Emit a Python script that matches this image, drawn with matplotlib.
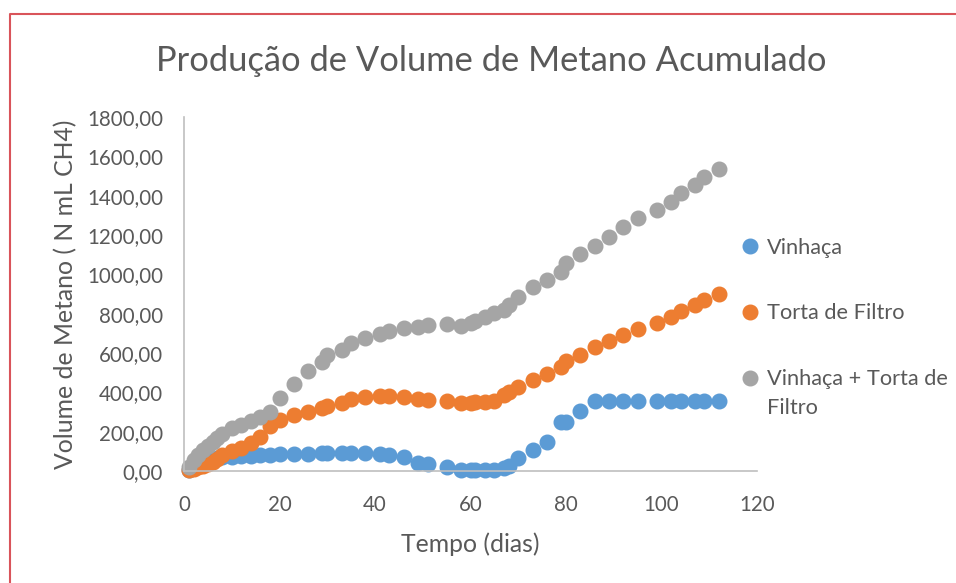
import matplotlib
matplotlib.use("Agg")
import matplotlib.pyplot as plt
from matplotlib.ticker import FuncFormatter, MultipleLocator
from matplotlib.lines import Line2D
from matplotlib.transforms import offset_copy

plt.rcParams['font.family'] = ['Lato', 'DejaVu Sans']

# Sampling days (dias)
dias = [1, 2, 3, 4, 5, 6, 7, 8, 10, 12, 14, 16, 18, 20, 23, 26, 29, 30, 33, 35,
        38, 41, 43, 46, 49, 51, 55, 58, 60, 61, 63, 65, 67, 68, 70, 73, 76, 79, 80,
        83, 86, 89, 92, 95, 99, 102, 104, 107, 109, 112]

# Accumulated methane volume (N mL CH4)
vinhaca = [5, 15, 25, 35, 45, 55, 65, 70, 72, 75, 78, 80, 83, 85, 85, 87, 90, 90, 92, 92,
           90, 85, 80, 72, 40, 35, 22, 3, 3, 3, 3, 5, 14, 25, 64, 107, 149, 251, 251,
           306, 357, 357, 357, 357, 357, 357, 357, 357, 357, 357]
torta = [5, 10, 18, 25, 35, 48, 62, 80, 100, 118, 140, 175, 230, 259, 285, 302, 319, 331, 348, 365,
         375, 382, 382, 378, 367, 361, 355, 344, 344, 349, 352, 357, 386, 403, 428, 462, 493, 530, 561,
         590, 629, 663, 692, 722, 754, 785, 814, 844, 869, 900]
mistura = [22, 55, 80, 105, 125, 148, 170, 190, 218, 234, 254, 275, 301, 373, 442, 510, 556, 590, 615, 652,
           674, 695, 712, 726, 734, 742, 747, 739, 754, 764, 781, 801, 818, 844, 886, 934, 971, 1013, 1056,
           1102, 1144, 1188, 1242, 1285, 1327, 1369, 1412, 1454, 1496, 1535]

series_labels = ["Vinhaça", "Torta de Filtro", "Vinhaça + Torta de"]
label_wrap = "Filtro"   # second line of the last legend entry
series_colors = ["#5B9BD5", "#ED7D31", "#A5A5A5"]

TEXT = "#595959"
AXIS = "#BFBFBF"
FS_TICK = 14.8
FS_LABEL = 17.8
FS_LEG = 15.7

fig = plt.figure(figsize=(9.56, 5.83), dpi=100)
ax = fig.add_axes([184 / 956, 1 - 471 / 583, (757 - 184) / 956, (471 - 117) / 583])

for ys, lab, col in zip([vinhaca, torta, mistura], series_labels, series_colors):
    ax.plot(dias, ys, linestyle='none', marker='o', markersize=10.5,
            markerfacecolor=col, markeredgecolor=col, label=lab, clip_on=False)

ax.set_xlim(0, 120)
ax.set_ylim(0, 1800)
ax.xaxis.set_major_locator(MultipleLocator(20))
ax.yaxis.set_major_locator(MultipleLocator(200))
ax.yaxis.set_major_formatter(FuncFormatter(lambda v, p: f"{v:.2f}".replace('.', ',')))

for s in ['top', 'right']:
    ax.spines[s].set_visible(False)
for s in ['left', 'bottom']:
    ax.spines[s].set_color(AXIS)
    ax.spines[s].set_linewidth(1.2)
ax.tick_params(length=0, labelsize=FS_TICK, labelcolor=TEXT)
ax.tick_params(axis='y', pad=15)
ax.tick_params(axis='x', pad=17.5)

ax.set_xlabel("Tempo (dias)", fontsize=FS_LABEL, color=TEXT, labelpad=12)
ax.set_ylabel("Volume de Metano ( N mL CH4)", fontsize=FS_LABEL, color=TEXT, labelpad=7)

fig.text(491 / 956, 1 - 61 / 583, "Produção de Volume de Metano Acumulado",
         ha='center', va='center', fontsize=24.8, color=TEXT)

leg = ax.legend(loc='upper left', bbox_to_anchor=(724 / 956, 1 - 218 / 583),
                bbox_transform=fig.transFigure, frameon=False, fontsize=FS_LEG,
                labelcolor=TEXT, handlelength=0.6, handletextpad=0.45,
                labelspacing=2.1, markerscale=1.0)

# second line of the last legend label, set 29 px under its first line
fig.canvas.draw()
last = leg.get_texts()[-1]
x0, y0 = last.get_position()
fig.text(x0, y0, label_wrap, fontsize=FS_LEG, color=TEXT,
         ha=last.get_horizontalalignment(), va=last.get_verticalalignment(),
         transform=offset_copy(last.get_transform(), fig=fig, x=0, y=-29, units='dots'))

# chart frame
frame = Line2D([10 / 956, 10 / 956, 1.0], [0.0, 1 - 14 / 583, 1 - 14 / 583],
               transform=fig.transFigure, color="#D9545A", linewidth=1.5)
fig.add_artist(frame)

fig.savefig("out.png", dpi=100, facecolor='white')
